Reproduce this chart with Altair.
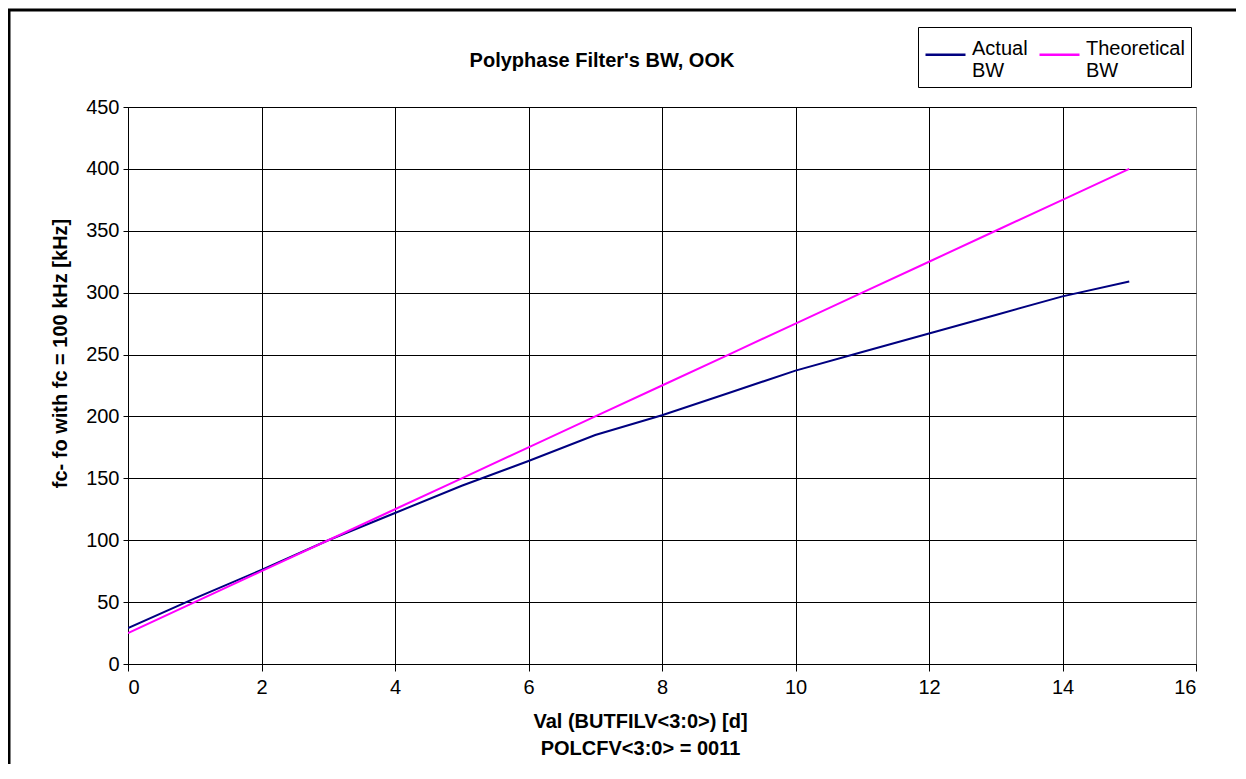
import altair as alt
import pandas as pd

x_vals = list(range(16))
actual_bw = [29, 53, 76, 100, 122, 144, 164, 185, 201, 219, 237, 252, 267, 282, 297, 309]
theoretical_bw = [25, 50, 75, 100, 125, 150, 175, 200, 225, 250, 275, 300, 325, 350, 375, 400]
series_names = ["Actual BW", "Theoretical BW"]
series_colors = ["#000080", "#FF00FF"]
x_ticks = list(range(0, 17, 2))
y_ticks = list(range(0, 451, 50))
chart_title = ["Polyphase Filter's BW, OOK"]

rows = []
for i, xv in enumerate(x_vals):
    rows.append({"x": xv, "y": actual_bw[i], "series": series_names[0]})
    rows.append({"x": xv, "y": theoretical_bw[i], "series": series_names[1]})
df = pd.DataFrame(rows)

FONT = "Liberation Sans"

lines = alt.Chart(df).mark_line(strokeWidth=2, clip=True).encode(
    x=alt.X("x:Q",
            scale=alt.Scale(domain=[0, 16], nice=False),
            axis=alt.Axis(values=x_ticks, title=["Val (BUTFILV<3:0>) [d]", "POLCFV<3:0> = 0011"],
                          titleX=512, titleY=63, titleAlign="center", titleBaseline="alphabetic",
                          titleLineHeight=27, labelPadding=6, tickSize=7,
                          gridColor={"condition": {"test": "datum.value === 16", "value": "#808080"}, "value": "black"})),
    y=alt.Y("y:Q",
            scale=alt.Scale(domain=[0, 450], nice=False),
            axis=alt.Axis(values=y_ticks, title="fc- fo with fc = 100 kHz [kHz]",
                          titleAngle=270, titleX=-68, titleY=246, titleAlign="center",
                          titleBaseline="middle", labelPadding=4, tickSize=5)),
    color=alt.Color("series:N",
                    scale=alt.Scale(domain=series_names, range=series_colors),
                    legend=alt.Legend(title=None, orient="none", legendX=790, legendY=-80,
                                      direction="horizontal", symbolType="stroke",
                                      symbolSize=1600, symbolStrokeWidth=2.5,
                                      labelExpr="split(datum.label, ' ')",
                                      labelFontSize=20, labelFont=FONT, labelColor="black",
                                      labelBaseline="alphabetic", labelOffset=5,
                                      columnPadding=6, strokeColor="black", fillColor="white",
                                      padding=6)),
)

title_mark = alt.Chart(pd.DataFrame({"t": chart_title})).mark_text(
    font=FONT, fontSize=20, fontWeight="bold", color="black", align="center", baseline="middle"
).encode(text="t:N", x=alt.value(474), y=alt.value(-46))

frame_src = pd.DataFrame({"a": [0]})
frame_top = alt.Chart(frame_src).mark_rule(stroke="black", strokeWidth=3, clip=False).encode(
    x=alt.value(-120), x2=alt.value(1108), y=alt.value(-97))
frame_left = alt.Chart(frame_src).mark_rule(stroke="black", strokeWidth=3, clip=False).encode(
    x=alt.value(-119), y=alt.value(-98), y2=alt.value(657))

chart = alt.layer(frame_top, frame_left, lines, title_mark).properties(
    width=1068, height=557,
    autosize=alt.AutoSizeParams(type="none"),
    padding={"left": 120, "top": 99, "right": 40, "bottom": 100},
).configure(background="white").configure_view(stroke="#808080", strokeWidth=1).configure_axis(
    labelFont=FONT, labelFontSize=20, labelColor="black",
    titleFont=FONT, titleFontSize=20, titleFontWeight="bold", titleColor="black",
    tickColor="black", domainColor="black", gridColor="black", gridOpacity=1, gridWidth=1,
    domainWidth=1
)

chart.save("out.html", embed_options={"renderer": "svg", "actions": False})
